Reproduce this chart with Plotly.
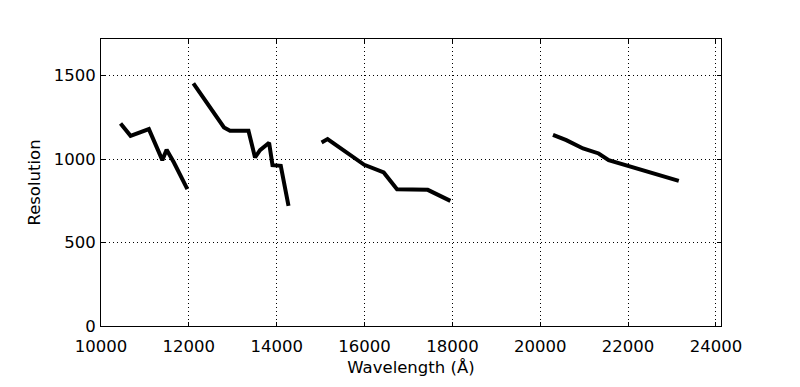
import plotly.graph_objects as go

# Tramos de resolución frente a longitud de onda (Å)
wl_1 = [10445, 10673, 11090, 11396, 11494, 11660, 11966]
res_1 = [1214, 1140, 1180, 994, 1056, 980, 820]

wl_2 = [12103, 12800, 12937, 13357, 13507, 13621, 13827, 13904, 14093, 14269]
res_2 = [1454, 1190, 1170, 1170, 1010, 1054, 1098, 964, 960, 720]

wl_3 = [15022, 15158, 15993, 16436, 16739, 17439, 17954]
res_3 = [1100, 1120, 966, 920, 820, 816, 750]

wl_4 = [20290, 20593, 20974, 21330, 21558, 22000, 23154]
res_4 = [1146, 1114, 1064, 1034, 994, 960, 870]

x_ticks = [10000, 12000, 14000, 16000, 18000, 20000, 22000, 24000]
y_ticks = [0, 500, 1000, 1500]

# Unimos los tramos con huecos (None) para una sola traza
x_all, y_all = [], []
for xs, ys in [(wl_1, res_1), (wl_2, res_2), (wl_3, res_3), (wl_4, res_4)]:
    x_all += xs + [None]
    y_all += ys + [None]

fig = go.Figure()
fig.add_trace(
    go.Scatter(
        x=x_all, y=y_all,
        mode="lines",
        line=dict(color="black", width=4),
        connectgaps=False,
        showlegend=False,
    )
)

axis_common = dict(
    showline=True, linecolor="black", linewidth=1, mirror="ticks",
    ticks="inside", ticklen=4, tickcolor="black",
    showgrid=True, gridcolor="black", gridwidth=1, griddash="1px,3px",
    zeroline=False, automargin=False,
    tickfont=dict(family="DejaVu Sans", size=16.5, color="black"),
)

# La página añade ~7 px de margen al cuerpo: se compensa aquí
fig.update_layout(
    width=800, height=387,
    paper_bgcolor="white", plot_bgcolor="white",
    margin=dict(l=93, r=87, t=31, b=69),
    font=dict(family="DejaVu Sans", color="black"),
    xaxis=dict(
        range=[10000, 24115], tickvals=x_ticks,
        ticktext=[str(v) for v in x_ticks],
        ticklabelstandoff=5,
        title=dict(text="Wavelength (Å)", font=dict(size=16.5), standoff=6),
        **axis_common,
    ),
    yaxis=dict(
        range=[0, 1720], tickvals=y_ticks,
        ticktext=[str(v) for v in y_ticks],
        ticklabelstandoff=1,
        title=dict(text="Resolution", font=dict(size=16.5), standoff=8),
        **axis_common,
    ),
)

fig.write_html("out.html")
